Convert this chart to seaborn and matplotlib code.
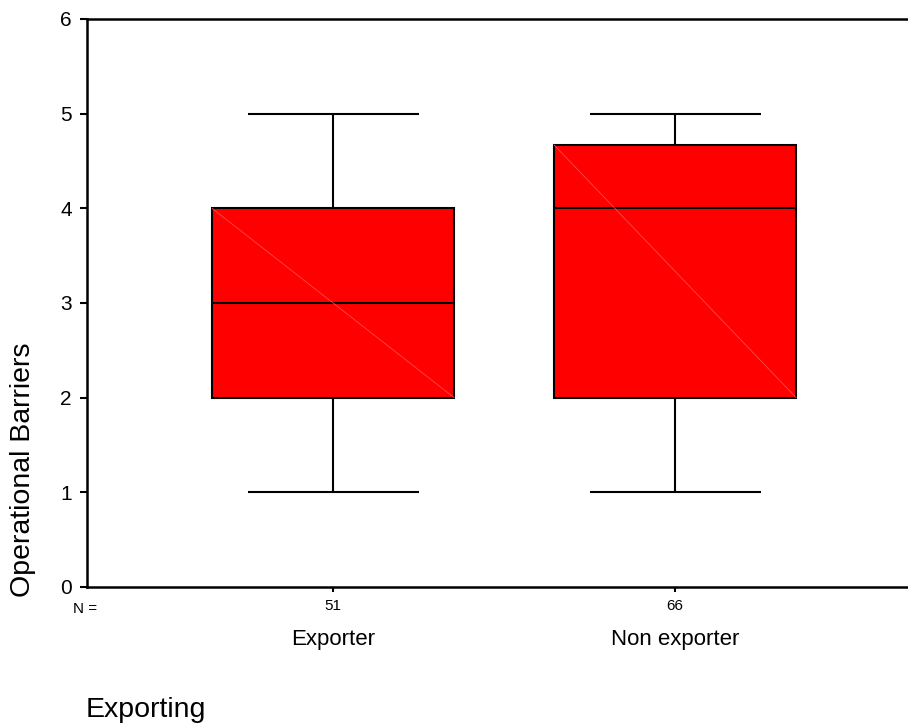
import matplotlib
matplotlib.use("Agg")
import matplotlib.pyplot as plt
import matplotlib.transforms as mtransforms
import pandas as pd
import seaborn as sns

# Groups and their five-number summaries (min, Q1, median, Q3, max)
categories = ["Exporter", "Non exporter"]
exporter_summary = [1, 2, 3, 4, 5]
non_exporter_summary = [1, 2, 4, 4.67, 5]
group_sizes = [51, 66]
y_ticks = [0, 1, 2, 3, 4, 5, 6]

df = pd.DataFrame({
    "Exporting": [categories[0]] * len(exporter_summary)
    + [categories[1]] * len(non_exporter_summary),
    "Operational Barriers": exporter_summary + non_exporter_summary,
})

sns.set_theme(style="white")
plt.rcParams["font.family"] = ["Liberation Sans", "DejaVu Sans"]

W, H = 908, 723
fig = plt.figure(figsize=(W / 100, H / 100), dpi=100)
ax = fig.add_axes([86.5 / W, 1 - 587 / H, (W - 86.5) / W, (587 - 19) / H])

sns.boxplot(
    data=df, x="Exporting", y="Operational Barriers", order=categories,
    whis=(0, 100), width=0.708, color="#ff0000", saturation=1,
    linecolor="black", linewidth=1.5, fliersize=0, ax=ax,
)

# whisker caps half the box width
cont = ax.containers[0]
for cap in cont.caps:
    xd = cap.get_xdata()
    c = (xd[0] + xd[1]) / 2
    cap.set_xdata([c - 0.25, c + 0.25])
    cap.set_solid_capstyle("butt")

# faint diagonal seam across each filled box
for box in cont.boxes:
    ext = box.get_path().get_extents()
    ax.plot([ext.x0, ext.x1], [ext.y1, ext.y0], color="#ff4a4a",
            lw=0.6, zorder=box.get_zorder() + 0.1)

ax.set_xlim(-0.721, 1.681)
ax.set_ylim(0, 6)
ax.set_yticks(y_ticks)
ax.set_yticklabels([str(t) for t in y_ticks], fontsize=15, color="black")
ax.set_xticks(range(len(categories)))
ax.set_xticklabels([str(n) for n in group_sizes], fontsize=11, color="black")
ax.tick_params(axis="y", direction="out", length=5, width=1.5, pad=5.5,
               left=True, colors="black")
ax.tick_params(axis="x", direction="out", length=3.6, width=1.5, pad=5,
               bottom=True, colors="black")
ax.set_xlabel("")
ax.set_ylabel("")
ax.grid(False)

for side in ["top", "left", "bottom"]:
    ax.spines[side].set_visible(True)
    ax.spines[side].set_color("black")
    ax.spines[side].set_linewidth(1.8)
ax.spines["right"].set_visible(False)

# category names beneath the counts
blend = mtransforms.blended_transform_factory(ax.transData, fig.transFigure)
for i, name in enumerate(categories):
    ax.text(i, 1 - 645 / H, name, transform=blend, ha="center",
            va="baseline", fontsize=16, color="black")

fig.text(73 / W, 1 - 613 / H, "N =", ha="left", va="baseline",
         fontsize=11, color="black")
fig.text(23 / W, 1 - 597 / H, "Operational Barriers", rotation=90,
         ha="center", va="bottom", fontsize=20.5, color="black")
fig.text(86 / W, 1 - 717 / H, "Exporting", ha="left", va="baseline",
         fontsize=20.5, color="black")

fig.savefig("out.png", dpi=100, facecolor="white")
